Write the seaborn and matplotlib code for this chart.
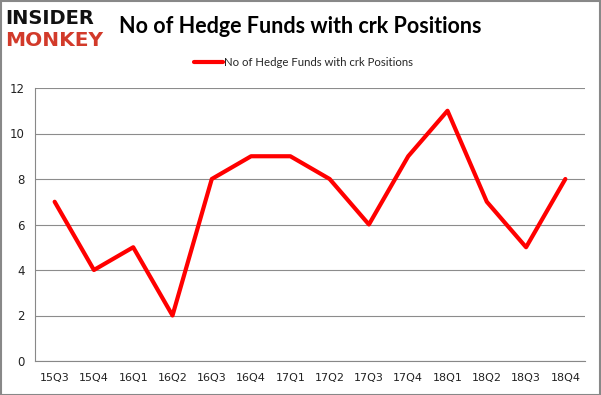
import matplotlib.pyplot as plt
import numpy as np
import pandas as pd
import seaborn as sns

QUARTERS = ["15Q3", "15Q4", "16Q1", "16Q2", "16Q3", "16Q4", "17Q1",
            "17Q2", "17Q3", "17Q4", "18Q1", "18Q2", "18Q3", "18Q4"]
FUND_COUNTS = [7, 4, 5, 2, 8, 9, 9, 8, 6, 9, 11, 7, 5, 8]
SERIES_NAME = "No of Hedge Funds with crk Positions"

df = pd.DataFrame({"quarter": QUARTERS, "funds": FUND_COUNTS})
df["pos"] = np.arange(len(QUARTERS))

sns.set_style("white")
plt.rcParams["font.family"] = ["DejaVu Sans"]

fig = plt.figure(figsize=(6.01, 3.95), dpi=100)
ax = fig.add_axes([35 / 601, 34 / 395, 550 / 601, 273 / 395])

sns.lineplot(data=df, x="pos", y="funds", color="#ff0000", linewidth=3,
             sort=False, ax=ax, label=SERIES_NAME, legend=False)

ax.set_xlim(-0.5, len(QUARTERS) - 0.5)
ax.set_ylim(0, 12)
ax.set_yticks(range(0, 13, 2))
ax.set_xticks(df["pos"])
ax.set_xticklabels(QUARTERS)
ax.set_xticks(np.arange(-0.5, len(QUARTERS), 1), minor=True)
ax.tick_params(axis="x", which="major", length=0, pad=9, labelsize=8, colors="#222222")
ax.tick_params(axis="x", which="minor", length=4, color="#888888")
ax.tick_params(axis="y", length=4, color="#888888", labelsize=8.5, colors="#222222")
ax.yaxis.grid(True, color="#8c8c8c", linewidth=0.8)
ax.set_axisbelow(True)
for side in ["top", "right"]:
    ax.spines[side].set_visible(False)
ax.spines["left"].set_color("#888888")
ax.spines["bottom"].set_color("#888888")
ax.set_xlabel("")
ax.set_ylabel("")

# title and legend
fig.text(0.5, 0.932, SERIES_NAME, ha="center", va="center",
         fontsize=15.5, fontweight="bold", color="#000000", family=["Lato", "DejaVu Sans"])
fig.legend(loc="center", bbox_to_anchor=(0.505, 0.843), frameon=False,
           fontsize=8, handlelength=2.6, handletextpad=0.1,
           prop={"family": ["Lato", "DejaVu Sans"], "size": 8.2})

# logo
fig.text(0.008, 0.953, "INSIDER", ha="left", va="center", fontsize=14,
         fontweight="heavy", color="#111111", family=["DejaVu Sans"])
fig.text(0.008, 0.897, "MONKEY", ha="left", va="center", fontsize=14.5,
         fontweight="heavy", color="#d23a2a", family=["DejaVu Sans"])

# outer border
fig.patches.append(plt.Rectangle((0.001, 0.001), 0.997, 0.997, transform=fig.transFigure,
                                 fill=False, edgecolor="#888888", linewidth=1.5))

fig.savefig("out.png", dpi=100)
